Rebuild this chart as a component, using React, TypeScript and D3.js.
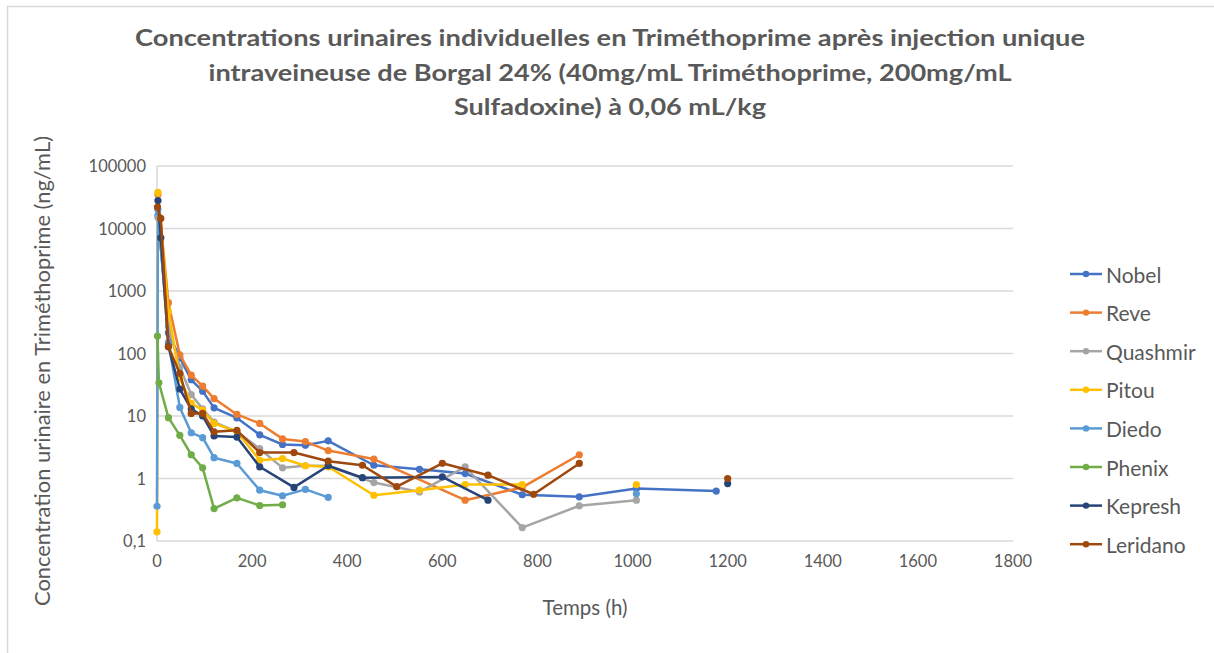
import React from 'react';
import * as d3 from 'd3';

const seriesNames = ['Nobel', 'Reve', 'Quashmir', 'Pitou', 'Diedo', 'Phenix', 'Kepresh', 'Leridano'];
const seriesColors = ['#4472C4', '#ED7D31', '#A5A5A5', '#FFC000', '#5B9BD5', '#70AD47', '#264478', '#9E480E'];

const nobelTimes = [2, 24, 48, 72, 96, 120, 168, 216, 264, 312, 360, 456, 552, 648, 768, 888, 1008, 1176];
const nobelValues = [16000, 215, 85, 38, 25, 13.5, 9.3, 5.0, 3.5, 3.4, 4.0, 1.63, 1.4, 1.2, 0.55, 0.51, 0.69, 0.63];

const reveTimes = [2, 24, 48, 72, 96, 120, 168, 216, 264, 312, 360, 456, 648, 768, 888];
const reveValues = [35000, 650, 95, 45, 30, 19, 10.6, 7.6, 4.3, 3.9, 2.8, 2.05, 0.45, 0.72, 2.4];

const quashmirTimes = [2, 24, 48, 72, 96, 120, 168, 216, 264, 312, 360, 456, 552, 648, 768, 888, 1008];
const quashmirValues = [15000, 270, 60, 22, 13, 8, 5.6, 3.0, 1.48, 1.6, 1.6, 0.86, 0.61, 1.54, 0.164, 0.366, 0.45];

const pitouTimes = [0, 2, 24, 48, 72, 96, 120, 168, 216, 264, 312, 360, 456, 552, 648, 768, 888, 1008];
const pitouValues = [0.14, 38000, 470, 40, 16, 12.4, 7.6, 5.6, 1.96, 2.09, 1.6, 1.54, 0.54, 0.65, 0.8, 0.8, null, 0.8];

const diedoTimes = [0, 2, 24, 48, 72, 96, 120, 168, 216, 264, 312, 360, 456, 1008];
const diedoValues = [0.36, 20000, 150, 13.7, 5.4, 4.5, 2.15, 1.74, 0.65, 0.53, 0.67, 0.5, null, 0.57];

const phenixTimes = [1, 4, 24, 48, 72, 96, 120, 168, 216, 264];
const phenixValues = [190, 34, 9.4, 4.9, 2.4, 1.48, 0.33, 0.49, 0.37, 0.38];

const kepreshTimes = [2, 8, 24, 48, 72, 96, 120, 168, 216, 288, 360, 432, 600, 696, 792, 1200];
const kepreshValues = [28000, 7100, 130, 27, 13, 10, 4.8, 4.6, 1.54, 0.72, 1.6, 1.03, 1.06, 0.45, null, 0.83];

const leridanoTimes = [1, 8, 24, 48, 72, 96, 120, 168, 216, 288, 360, 432, 504, 600, 696, 792, 888, 1008, 1200];
const leridanoValues = [22000, 14500, 128, 48, 11, 11, 5.6, 5.9, 2.6, 2.6, 1.89, 1.63, 0.74, 1.75, 1.13, 0.56, 1.74, null, 1.0];

const seriesTimes = [nobelTimes, reveTimes, quashmirTimes, pitouTimes, diedoTimes, phenixTimes, kepreshTimes, leridanoTimes];
const seriesValues = [nobelValues, reveValues, quashmirValues, pitouValues, diedoValues, phenixValues, kepreshValues, leridanoValues];

const yTickValues = [0.1, 1, 10, 100, 1000, 10000, 100000];
const yTickLabels = ['0,1', '1', '10', '100', '1000', '10000', '100000'];
const xTickValues = [0, 200, 400, 600, 800, 1000, 1200, 1400, 1600, 1800];

const titleLines = [
  'Concentrations urinaires individuelles en Triméthoprime après injection unique',
  'intraveineuse de Borgal 24% (40mg/mL Triméthoprime, 200mg/mL',
  'Sulfadoxine) à 0,06 mL/kg',
];
const titleWidths = [950, 803, 312];
const xAxisTitle = 'Temps (h)';
const yAxisTitle = 'Concentration urinaire en Triméthoprime (ng/mL)';

const W = 1214;
const H = 653;
const FONT = 'Lato, "Open Sans", sans-serif';
const TEXT = '#595959';
const GRID = '#d9d9d9';

export default function App() {
  const x = d3.scaleLinear().domain([0, 1800]).range([157, 1013]);
  const y = d3.scaleLog().domain([0.1, 100000]).range([541, 166]);

  type Pt = [number, number | null];
  const line = d3
    .line<Pt>()
    .defined((d) => d[1] != null)
    .x((d) => x(d[0]))
    .y((d) => y(d[1] as number));

  const legendY0 = 274;
  const legendStep = 38.6;

  return (
    <svg width={W} height={H} style={{ position: 'absolute', left: 0, top: 0, background: '#fff' }}>
      <rect x={0} y={0} width={W} height={H} fill="#fff" />
      <rect x={7.5} y={6.5} width={1300} height={700} fill="none" stroke="#d9d9d9" strokeWidth={1.5} />

      {titleLines.map((t, i) => (
        <text
          key={i}
          x={610}
          y={46 + i * 34.5}
          textAnchor="middle"
          fontFamily={FONT}
          fontWeight={700}
          fontSize={23.5}
          fill={TEXT}
          textLength={titleWidths[i]}
          lengthAdjust="spacingAndGlyphs"
        >
          {t}
        </text>
      ))}

      {/* gridlines */}
      {yTickValues.map((v, i) => (
        <line key={i} x1={x(0)} x2={x(1800)} y1={y(v)} y2={y(v)} stroke={GRID} strokeWidth={1.5} />
      ))}
      <line x1={x(0)} x2={x(0)} y1={y(0.1)} y2={y(100000)} stroke={GRID} strokeWidth={1.5} />

      {/* y tick labels */}
      {yTickValues.map((v, i) => (
        <text key={i} x={146} y={y(v)} textAnchor="end" dominantBaseline="central" fontFamily={FONT} fontSize={16.5} fill={TEXT}>
          {yTickLabels[i]}
        </text>
      ))}
      {/* x tick labels */}
      {xTickValues.map((v, i) => (
        <text key={i} x={x(v)} y={561} textAnchor="middle" dominantBaseline="central" fontFamily={FONT} fontSize={16.5} fill={TEXT}>
          {String(v)}
        </text>
      ))}

      <text x={585} y={607} textAnchor="middle" dominantBaseline="central" fontFamily={FONT} fontSize={20.5} fill={TEXT}>
        {xAxisTitle}
      </text>
      <text
        transform="translate(42,371) rotate(-90)"
        textAnchor="middle"
        dominantBaseline="central"
        fontFamily={FONT}
        fontSize={20.5}
        fill={TEXT}
        textLength={470}
        lengthAdjust="spacingAndGlyphs"
      >
        {yAxisTitle}
      </text>

      {/* series */}
      {seriesNames.map((name, si) => {
        const pts: Pt[] = seriesTimes[si].map((t, j) => [t, seriesValues[si][j] as number | null]);
        return (
          <g key={name}>
            <path d={line(pts) || ''} fill="none" stroke={seriesColors[si]} strokeWidth={2.5} strokeLinejoin="round" />
            {pts
              .filter((p) => p[1] != null)
              .map((p, j) => (
                <circle key={j} cx={x(p[0])} cy={y(p[1] as number)} r={3.6} fill={seriesColors[si]} />
              ))}
          </g>
        );
      })}

      {/* legend */}
      {seriesNames.map((name, si) => {
        const ly = legendY0 + si * legendStep;
        return (
          <g key={name}>
            <line x1={1070} x2={1102} y1={ly} y2={ly} stroke={seriesColors[si]} strokeWidth={2.5} />
            <circle cx={1086} cy={ly} r={3.2} fill={seriesColors[si]} />
            <text x={1106} y={ly} dominantBaseline="central" fontFamily={FONT} fontSize={21} fill={TEXT}>
              {name}
            </text>
          </g>
        );
      })}
    </svg>
  );
}
